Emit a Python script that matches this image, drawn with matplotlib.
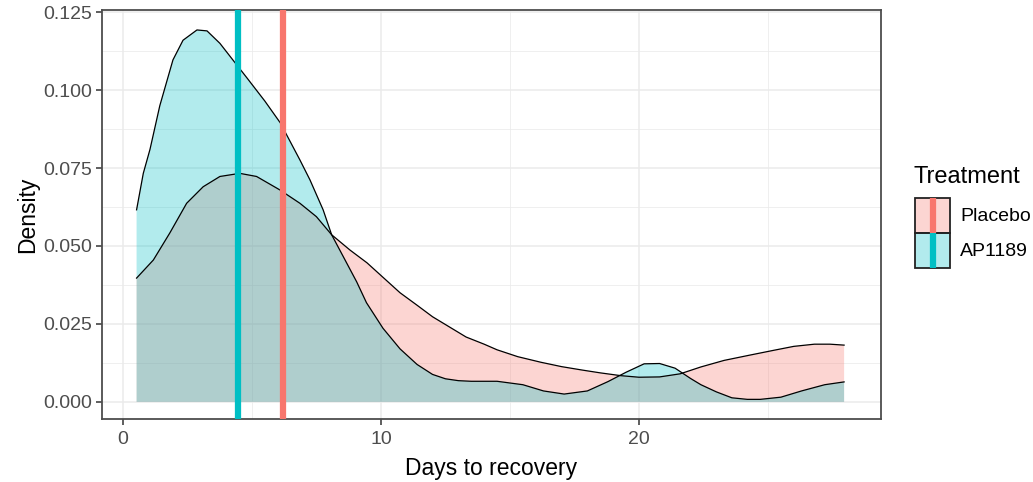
import matplotlib
matplotlib.use("Agg")
import matplotlib.pyplot as plt
from matplotlib.patches import Rectangle
from matplotlib.lines import Line2D
from matplotlib.ticker import FixedLocator
from matplotlib.colors import to_rgba

plt.rcParams['font.family'] = ['Liberation Sans', 'DejaVu Sans']

# ---- data ----
groups = ["Placebo", "AP1189"]
colors = ["#F8766D", "#00BFC4"]

placebo_days = [0.53, 1.18, 1.82, 2.47, 3.11, 3.76, 4.53, 5.18, 6.08, 6.86, 7.5, 8.09,
                8.8, 9.46, 10.1, 10.74, 11.4, 12.0, 12.7, 13.3, 14.0, 14.5, 15.3, 16.2,
                17.0, 17.8, 18.5, 19.3, 20.0, 20.8, 21.6, 22.4, 23.3, 24.3, 25.2, 26.0,
                26.8, 27.4, 27.95]
placebo_density = [0.0397, 0.0455, 0.0542, 0.0637, 0.069, 0.0723, 0.0733, 0.0723, 0.068,
                   0.0637, 0.0594, 0.0536, 0.0487, 0.0446, 0.0398, 0.035, 0.031, 0.0273,
                   0.0238, 0.0208, 0.0185, 0.0167, 0.0145, 0.0127, 0.0113, 0.0102, 0.0093,
                   0.0084, 0.0079, 0.0080, 0.0090, 0.0112, 0.0133, 0.015, 0.0165, 0.0178,
                   0.0185, 0.0185, 0.0182]

ap_days = [0.53, 0.79, 1.05, 1.43, 1.94, 2.33, 2.87, 3.26, 3.76, 4.26, 4.8, 5.5, 6.1,
           6.86, 7.25, 7.76, 8.09, 8.54, 9.06, 9.44, 10.08, 10.74, 11.4, 12.0, 12.5,
           13.0, 13.5, 14.5, 15.5, 16.3, 17.1, 18.0, 18.8, 19.5, 20.2, 20.8, 21.4, 22.0,
           22.4, 23.0, 23.6, 24.2, 24.7, 25.5, 26.3, 27.2, 27.95]
ap_density = [0.0616, 0.0733, 0.0810, 0.0950, 0.1097, 0.116, 0.1193, 0.119, 0.115,
              0.1097, 0.104, 0.0965, 0.0895, 0.0776, 0.0712, 0.0616, 0.0536, 0.0466,
              0.0385, 0.0318, 0.0236, 0.0170, 0.0120, 0.0088, 0.0074, 0.0068, 0.0066,
              0.0066, 0.0055, 0.0035, 0.0025, 0.0035, 0.0065, 0.0095, 0.0122, 0.0123,
              0.0108, 0.0075, 0.0055, 0.0032, 0.0013, 0.0008, 0.0008, 0.0015, 0.0035,
              0.0055, 0.0064]

medians = [6.2, 4.46]

x_ticks = [0, 10, 20]
x_minor = [5, 15, 25]
y_ticks = [0.000, 0.025, 0.050, 0.075, 0.100, 0.125]
y_minor = [0.0125, 0.0375, 0.0625, 0.0875, 0.1125]
y_tick_labels = ["0.000", "0.025", "0.050", "0.075", "0.100", "0.125"]

W, H = 1033, 482

def fx(px):
    return px / W

def fy(py):
    return 1 - py / H

# ---- figure ----
fig = plt.figure(figsize=(W / 100, H / 100), dpi=100)
ax = fig.add_axes([fx(102), fy(419), (881 - 102) / W, (419 - 10) / H])

ax.set_xlim(-0.81, 29.38)
ax.set_ylim(-0.0055, 0.1257)

grid_col = "#EBEBEB"
ax.xaxis.set_major_locator(FixedLocator(x_ticks))
ax.xaxis.set_minor_locator(FixedLocator(x_minor))
ax.yaxis.set_major_locator(FixedLocator(y_ticks))
ax.yaxis.set_minor_locator(FixedLocator(y_minor))
ax.grid(which="major", color=grid_col, lw=1.1, zorder=0)
ax.grid(which="minor", color=grid_col, lw=0.55, zorder=0)
ax.set_axisbelow(True)

series = [(placebo_days, placebo_density), (ap_days, ap_density)]
for (xs, ys), c in zip(series, colors):
    ax.fill_between(xs, 0, ys, facecolor=c, alpha=0.3, edgecolor="none", zorder=2)
    ax.plot(xs, ys, color="black", lw=0.9, zorder=3)

for m, c in zip(medians, colors):
    ax.axvline(m, color=c, lw=4.5, zorder=4)

ax.set_yticks(y_ticks)
ax.set_yticklabels(y_tick_labels)
ax.set_xticks(x_ticks)
ax.tick_params(which="major", direction="out", length=4, width=1.1, color="#333333",
               labelsize=14, labelcolor="#4D4D4D", pad=3)
ax.tick_params(axis="x", which="major", pad=5)
ax.tick_params(which="minor", length=0)

for s in ax.spines.values():
    s.set_color("#4D4D4D")
    s.set_linewidth(1.3)

ax.set_xlabel("Days to recovery", fontsize=16.5, color="black", labelpad=6)
ax.set_ylabel("Density", fontsize=16.5, color="black", labelpad=3)

# ---- legend (drawn by hand, ggplot style) ----
fig.text(fx(913), fy(177), "Treatment", fontsize=17, ha="left", va="center")
key_left, key_w, key_h, key_top = 915, 35, 35, 198
for i, (g, c) in enumerate(zip(groups, colors)):
    top = key_top + i * key_h
    fig.add_artist(Rectangle((fx(key_left), fy(top + key_h)), key_w / W, key_h / H,
                             transform=fig.transFigure, facecolor=to_rgba(c, 0.3),
                             edgecolor="none"))
    fig.add_artist(Line2D([fx(key_left + key_w / 2)] * 2, [fy(top + key_h), fy(top)],
                          transform=fig.transFigure, color=c, lw=4.5,
                          solid_capstyle="butt"))
    fig.add_artist(Rectangle((fx(key_left), fy(top + key_h)), key_w / W, key_h / H,
                             transform=fig.transFigure, facecolor="none",
                             edgecolor="#222222", lw=1.3))
    fig.text(fx(960), fy(top + key_h / 2 + 1), g, fontsize=14, ha="left", va="center")

fig.savefig("out.png", dpi=100)
